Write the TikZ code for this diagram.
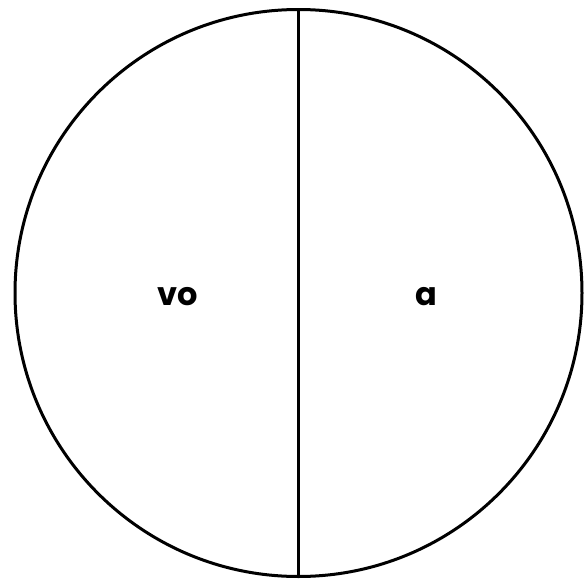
\documentclass[tikz,border=0pt]{standalone}
\usepackage{fontspec}
\setmainfont{Poppins}
\begin{document}
\begin{tikzpicture}[x=1pt,y=-1pt,
  outline/.style={line width=3pt,black},
  lbl/.style={font=\fontsize{32}{36}\selectfont\bfseries,inner sep=0pt}]
\useasboundingbox (0,0) rectangle (587,581);
\node[circle,draw,outline,minimum size=567pt,inner sep=0pt] (c) at (298.5,293) {};
\draw[outline] (c.north) -- (c.south);
\node[lbl] (vo) at (178,297) {vo};
\node[lbl] (a) at (426,297) {a};
\end{tikzpicture}
\end{document}
